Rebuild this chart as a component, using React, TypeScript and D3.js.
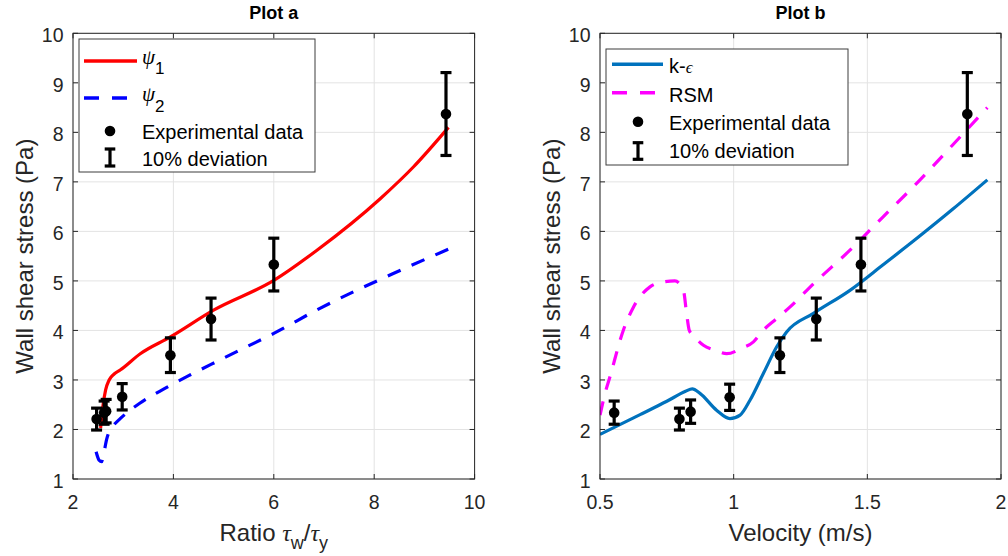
import React from "react";
import * as d3 from "d3";

// ---- axis ticks ----
const RATIO_TICKS = [2, 4, 6, 8, 10];
const VELOCITY_TICKS = [0.5, 1, 1.5, 2];
const STRESS_TICKS = [1, 2, 3, 4, 5, 6, 7, 8, 9, 10];

// ---- experimental data (wall shear stress, Pa) ----
const expRatio = [2.47, 2.62, 2.66, 2.98, 3.94, 4.75, 6.0, 9.43];
const expStressA = [2.21, 2.34, 2.37, 2.66, 3.5, 4.23, 5.33, 8.37];
const expVelocity = [0.553, 0.797, 0.839, 0.985, 1.173, 1.309, 1.476, 1.874];
const expStressB = [2.34, 2.21, 2.36, 2.65, 3.5, 4.23, 5.33, 8.37];
const DEVIATION = 0.1;

// ---- model psi_1 vs ratio ----
const psi1Ratio = [2.55, 2.6, 2.65, 2.72, 2.82, 2.94, 3.34, 3.94, 4.8, 6.0, 6.86, 8.12, 8.78, 9.48];
const psi1Stress = [2.03, 2.5, 2.8, 3.0, 3.12, 3.2, 3.53, 3.87, 4.41, 5.01, 5.62, 6.66, 7.3, 8.1];

// ---- model psi_2 vs ratio ----
const psi2Ratio = [2.46, 2.52, 2.57, 2.61, 2.67, 2.74, 2.82, 2.94, 3.33, 3.83, 4.33, 4.86, 5.46, 6.0, 6.85, 8.38, 9.48];
const psi2Stress = [1.55, 1.38, 1.35, 1.5, 1.8, 2.0, 2.1, 2.22, 2.53, 2.83, 3.1, 3.37, 3.67, 3.94, 4.41, 5.15, 5.64];

// ---- k-epsilon model vs velocity ----
const keVelocity = [0.5, 0.65, 0.75, 0.82, 0.845, 0.874, 0.936, 0.986, 1.024, 1.061, 1.111, 1.161, 1.198, 1.3, 1.435, 1.56, 1.69, 1.82, 1.949];
const keStress = [1.9, 2.3, 2.57, 2.77, 2.82, 2.73, 2.39, 2.22, 2.29, 2.59, 3.13, 3.67, 3.97, 4.35, 4.81, 5.33, 5.88, 6.45, 7.04];

// ---- RSM model vs velocity ----
const rsmVelocity = [0.5, 0.519, 0.537, 0.587, 0.625, 0.687, 0.737, 0.78, 0.812, 0.824, 0.834, 0.849, 0.887, 0.93, 0.974, 1.03, 1.074, 1.11, 1.161, 1.21, 1.3, 1.435, 1.56, 1.69, 1.82, 1.949];
const rsmStress = [2.29, 2.73, 3.06, 4.0, 4.47, 4.88, 4.98, 5.0, 4.81, 4.34, 4.0, 3.9, 3.7, 3.6, 3.53, 3.64, 3.77, 4.0, 4.24, 4.47, 4.95, 5.62, 6.3, 7.0, 7.75, 8.5];

const SANS = "'Liberation Sans', Arial, Helvetica, sans-serif";
const SERIF = "'Liberation Serif', 'DejaVu Serif', serif";
const INK = "#262626";
const GRID = "#e3e3e3";

const TOP = 33.3;
const BOTTOM = 479;
const yScale = d3.scaleLinear().domain([1, 10]).range([BOTTOM, TOP]);

type Curve = { xs: number[]; ys: number[]; color: string; dash?: string };

function zip(xs: number[], ys: number[]): [number, number][] {
  return xs.map((x, i) => [x, ys[i]]);
}

function Panel(props: {
  id: string;
  title: string;
  x: d3.ScaleLinear<number, number>;
  xTicks: number[];
  xLabel: React.ReactNode;
  curves: Curve[];
  px: number[];
  py: number[];
  legend: React.ReactNode;
}) {
  const { id, title, x, xTicks, xLabel, curves, px, py, legend } = props;
  const [L, R] = x.range();
  const cx = (L + R) / 2;
  const line = d3
    .line<[number, number]>()
    .x((d) => x(d[0]))
    .y((d) => yScale(d[1]))
    .curve(d3.curveMonotoneX);
  const tl = 5;
  return (
    <g>
      <defs>
        <clipPath id={id}>
          <rect x={L} y={TOP} width={R - L} height={BOTTOM - TOP} />
        </clipPath>
      </defs>
      {/* grid */}
      {xTicks.map((t) => (
        <line key={"gx" + t} x1={x(t)} x2={x(t)} y1={TOP} y2={BOTTOM} stroke={GRID} strokeWidth={1} />
      ))}
      {STRESS_TICKS.map((t) => (
        <line key={"gy" + t} x1={L} x2={R} y1={yScale(t)} y2={yScale(t)} stroke={GRID} strokeWidth={1} />
      ))}
      {/* model curves */}
      <g clipPath={`url(#${id})`}>
        {curves.map((c, i) => (
          <path
            key={i}
            d={line(zip(c.xs, c.ys)) || ""}
            fill="none"
            stroke={c.color}
            strokeWidth={3.2}
            strokeDasharray={c.dash}
          />
        ))}
      </g>
      {/* experimental points with 10% deviation bars */}
      {px.map((v, i) => {
        const X = x(v);
        const lo = yScale(py[i] * (1 - DEVIATION));
        const hi = yScale(py[i] * (1 + DEVIATION));
        return (
          <g key={"p" + i}>
            <line x1={X} x2={X} y1={lo} y2={hi} stroke="#000" strokeWidth={3.2} />
            <line x1={X - 5.5} x2={X + 5.5} y1={lo} y2={lo} stroke="#000" strokeWidth={3.2} />
            <line x1={X - 5.5} x2={X + 5.5} y1={hi} y2={hi} stroke="#000" strokeWidth={3.2} />
            <circle cx={X} cy={yScale(py[i])} r={5.3} fill="#000" />
          </g>
        );
      })}
      {/* axes box and ticks */}
      <rect x={L} y={TOP} width={R - L} height={BOTTOM - TOP} fill="none" stroke={INK} strokeWidth={1} />
      {xTicks.map((t) => (
        <g key={"tx" + t}>
          <line x1={x(t)} x2={x(t)} y1={BOTTOM} y2={BOTTOM - tl} stroke={INK} />
          <line x1={x(t)} x2={x(t)} y1={TOP} y2={TOP + tl} stroke={INK} />
          <text x={x(t)} y={509.3} textAnchor="middle" fontSize={19.5} fill={INK} fontFamily={SANS}>
            {String(t)}
          </text>
        </g>
      ))}
      {STRESS_TICKS.map((t) => (
        <g key={"ty" + t}>
          <line x1={L} x2={L + tl} y1={yScale(t)} y2={yScale(t)} stroke={INK} />
          <line x1={R} x2={R - tl} y1={yScale(t)} y2={yScale(t)} stroke={INK} />
          <text x={L - 9.5} y={yScale(t) + 9} textAnchor="end" fontSize={19.5} fill={INK} fontFamily={SANS}>
            {String(t)}
          </text>
        </g>
      ))}
      {/* titles and labels */}
      <text x={cx} y={19} textAnchor="middle" fontSize={18} fontWeight="bold" fill="#000" fontFamily={SANS}>
        {title}
      </text>
      <text x={cx} y={541} textAnchor="middle" fontSize={24} fill={INK} fontFamily={SANS}>
        {xLabel}
      </text>
      <text
        transform={`translate(${L - 40},${(TOP + BOTTOM) / 2}) rotate(-90)`}
        textAnchor="middle"
        fontSize={24}
        fill={INK}
        fontFamily={SANS}
      >
        Wall shear stress (Pa)
      </text>
      {legend}
    </g>
  );
}

function LegendMarker(props: { x: number; y: number }) {
  return <circle cx={props.x} cy={props.y} r={5.3} fill="#000" />;
}

function LegendBar(props: { x: number; y1: number; y2: number }) {
  const { x, y1, y2 } = props;
  return (
    <g stroke="#000" strokeWidth={3.2}>
      <line x1={x} x2={x} y1={y1} y2={y2} />
      <line x1={x - 5.3} x2={x + 5.3} y1={y1} y2={y1} />
      <line x1={x - 5.3} x2={x + 5.3} y1={y2} y2={y2} />
    </g>
  );
}

export default function App() {
  const xA = d3.scaleLinear().domain([2, 10]).range([73, 474.6]);
  const xB = d3.scaleLinear().domain([0.5, 2]).range([600, 1001]);

  const legendA = (
    <g fontFamily={SANS} fill="#000" fontSize={20}>
      <rect x={79} y={39} width={236} height={133} fill="#fff" stroke="#3c3c3c" strokeWidth={1} />
      <line x1={84} x2={137} y1={61} y2={61} stroke="#ff0000" strokeWidth={3.5} />
      <text x={142} y={64}>
        <tspan fontFamily={SERIF} fontStyle="italic" fontSize={21}>ψ</tspan>
        <tspan dy={10} fontSize={17}>1</tspan>
      </text>
      <line x1={84} x2={137} y1={98} y2={98} stroke="#0000ff" strokeWidth={3.5} strokeDasharray="15 13" />
      <text x={142} y={101}>
        <tspan fontFamily={SERIF} fontStyle="italic" fontSize={21}>ψ</tspan>
        <tspan dy={10.5} fontSize={17}>2</tspan>
      </text>
      <LegendMarker x={110} y={131} />
      <text x={142} y={139}>Experimental data</text>
      <LegendBar x={110} y1={149} y2={166} />
      <text x={142} y={166}>10% deviation</text>
    </g>
  );

  const legendB = (
    <g fontFamily={SANS} fill="#000" fontSize={20}>
      <rect x={606} y={49} width={242} height={116} fill="#fff" stroke="#3c3c3c" strokeWidth={1} />
      <line x1={612} x2={663} y1={64.3} y2={64.3} stroke="#0072bd" strokeWidth={3.5} />
      <text x={669} y={73}>
        k-<tspan fontFamily={SERIF} fontStyle="italic" fontSize={17}>ϵ</tspan>
      </text>
      <line x1={612} x2={663} y1={92.7} y2={92.7} stroke="#ff00ff" strokeWidth={3.5} strokeDasharray="15 13" />
      <text x={669} y={101.5}>RSM</text>
      <LegendMarker x={638} y={121.7} />
      <text x={669} y={130}>Experimental data</text>
      <LegendBar x={638} y1={142.7} y2={159.3} />
      <text x={669} y={158.3}>10% deviation</text>
    </g>
  );

  const ratioLabel = (
    <>
      <tspan>Ratio </tspan>
      <tspan fontFamily={SERIF} fontStyle="italic">τ</tspan>
      <tspan dy={8} fontSize={18}>w</tspan>
      <tspan dy={-8}>/</tspan>
      <tspan fontFamily={SERIF} fontStyle="italic">τ</tspan>
      <tspan dy={8} fontSize={18}>y</tspan>
    </>
  );

  return (
    <svg
      width={1008}
      height={556}
      style={{ position: "absolute", left: 0, top: 0, background: "#fff" }}
    >
      <rect x={0} y={0} width={1008} height={556} fill="#fff" />
      <Panel
        id="clip-a"
        title="Plot a"
        x={xA}
        xTicks={RATIO_TICKS}
        xLabel={ratioLabel}
        curves={[
          { xs: psi1Ratio, ys: psi1Stress, color: "#ff0000" },
          { xs: psi2Ratio, ys: psi2Stress, color: "#0000ff", dash: "14 12" },
        ]}
        px={expRatio}
        py={expStressA}
        legend={legendA}
      />
      <Panel
        id="clip-b"
        title="Plot b"
        x={xB}
        xTicks={VELOCITY_TICKS}
        xLabel="Velocity (m/s)"
        curves={[
          { xs: keVelocity, ys: keStress, color: "#0072bd" },
          { xs: rsmVelocity, ys: rsmStress, color: "#ff00ff", dash: "14 12" },
        ]}
        px={expVelocity}
        py={expStressB}
        legend={legendB}
      />
    </svg>
  );
}
